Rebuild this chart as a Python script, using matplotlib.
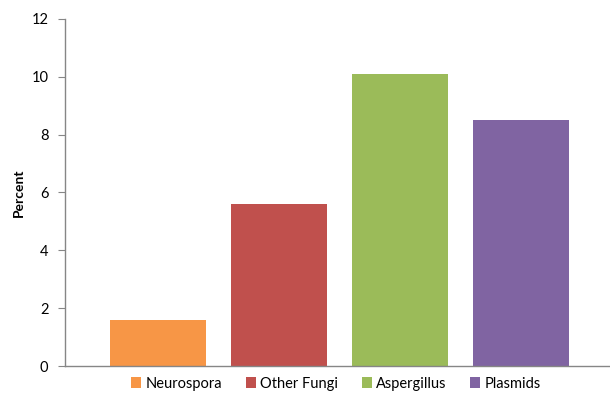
import matplotlib
matplotlib.use("Agg")
import matplotlib.pyplot as plt
from matplotlib.patches import Patch

categories = ["Neurospora", "Other Fungi", "Aspergillus", "Plasmids"]
values = [1.6, 5.6, 10.1, 8.5]
colors = ["#F79646", "#C0504D", "#9BBB59", "#8064A2"]
yticks = [0, 2, 4, 6, 8, 10, 12]

plt.rcParams["font.family"] = ["Lato", "DejaVu Sans"]

fig = plt.figure(figsize=(6.10, 3.93), dpi=100)
ax = fig.add_axes([0.1066, 0.0687, 0.8934, 0.883])

x = list(range(len(categories)))
ax.bar(x, values, width=0.793, color=colors, zorder=2)

ax.set_xlim(-0.769, 3.735)
ax.set_ylim(0, 12)
ax.set_yticks(yticks)
ax.set_yticklabels([str(t) for t in yticks], fontsize=10.5)
ax.set_xticks([])

for side in ("top", "right"):
    ax.spines[side].set_visible(False)
for side in ("left", "bottom"):
    ax.spines[side].set_color("#868686")
    ax.spines[side].set_linewidth(1.0)
ax.tick_params(axis="y", direction="out", length=5, color="#868686", pad=7)

ax.set_ylabel("Percent", fontsize=10, fontweight="bold", labelpad=5)

handles = [Patch(facecolor=c, edgecolor="none") for c in colors]
fig.legend(handles, categories, loc="center", bbox_to_anchor=(0.551, 0.024),
           ncol=4, frameon=False, fontsize=10.5, handlelength=0.7, handleheight=0.7,
           handletextpad=0.3, columnspacing=1.6)

fig.savefig("out.png", dpi=100)
